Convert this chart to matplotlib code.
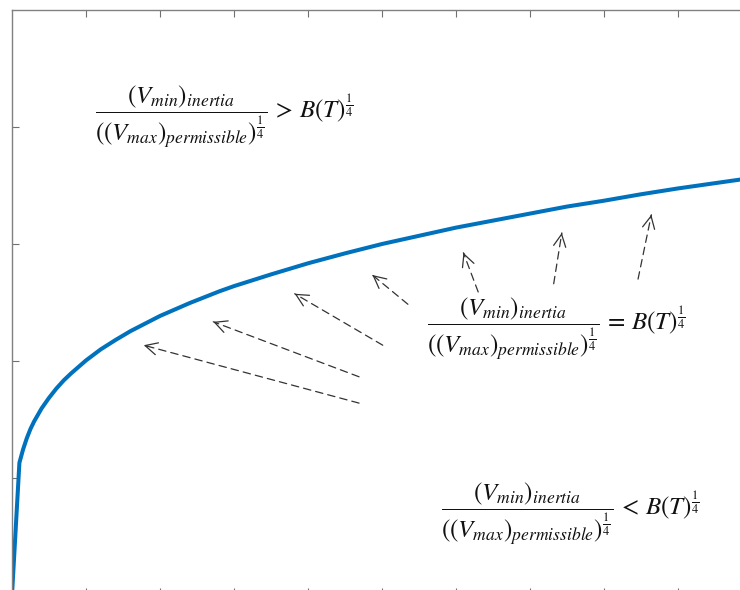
import numpy as np
import matplotlib
matplotlib.use('Agg')
import matplotlib.pyplot as plt

plt.rcParams['mathtext.fontset'] = 'stix'

#%% Curve
x_curve = [0, 0.01, 0.015, 0.02, 0.025, 0.03, 0.04, 0.05, 0.06, 0.07, 0.08, 0.09, 0.10,
           0.12, 0.14, 0.16, 0.18, 0.20, 0.22, 0.24, 0.26, 0.28, 0.30, 0.35, 0.40,
           0.45, 0.50, 0.55, 0.60, 0.65, 0.70, 0.75, 0.80, 0.85, 0.90, 0.95, 1.00]
y_curve = [0, 0.226, 0.249, 0.268, 0.284, 0.297, 0.319, 0.337, 0.353, 0.367, 0.379, 0.390, 0.401,
           0.420, 0.436, 0.451, 0.464, 0.477, 0.488, 0.499, 0.509, 0.519, 0.528, 0.548, 0.567,
           0.584, 0.600, 0.614, 0.628, 0.640, 0.652, 0.664, 0.674, 0.685, 0.695, 0.704, 0.713]

#%% Dashed arrows (tail -> head)
arrow_tail_x = [0.469, 0.469, 0.501, 0.535, 0.630, 0.732, 0.846]
arrow_tail_y = [0.328, 0.373, 0.427, 0.497, 0.518, 0.532, 0.540]
arrow_head_x = [0.178, 0.272, 0.382, 0.487, 0.610, 0.743, 0.864]
arrow_head_y = [0.427, 0.467, 0.515, 0.547, 0.585, 0.619, 0.650]

#%% Labels
frac = r'\dfrac{(V_{min})_{inertia}}{((V_{max})_{permissible})^{\frac{1}{4}}}'
labels = [r'$' + frac + r'\,>\,B(T)^{\frac{1}{4}}$',
          r'$' + frac + r'\,=\,B(T)^{\frac{1}{4}}$',
          r'$' + frac + r'\,<\,B(T)^{\frac{1}{4}}$']
label_x = [0.112, 0.561, 0.580]
label_y = [0.818, 0.455, 0.139]

fig = plt.figure(figsize=(7.4, 5.9), dpi=100)
ax = fig.add_axes([12/740, -5/590, 1.0, 585/590])

ax.plot(x_curve, y_curve, color='#0072BD', linewidth=2.9)

for tx, ty, hx, hy in zip(arrow_tail_x, arrow_tail_y, arrow_head_x, arrow_head_y):
    ax.annotate('', xy=(hx, hy), xytext=(tx, ty),
                arrowprops=dict(arrowstyle='-', linestyle=(0, (6, 4)), color='#333333',
                                lw=0.9, shrinkA=0, shrinkB=0))
    # solid open head
    bx = hx + 0.02 * (tx - hx)
    by = hy + 0.02 * (ty - hy)
    ax.annotate('', xy=(hx, hy), xytext=(bx, by),
                arrowprops=dict(arrowstyle='->', color='#333333',
                                lw=0.9, mutation_scale=22, shrinkA=0, shrinkB=0))

for lx, ly, lab in zip(label_x, label_y, labels):
    ax.text(lx, ly, lab, fontsize=18, ha='left', va='center', color='#111111')

ax.set_xlim(0, 1)
ax.set_ylim(0, 1)
ax.set_xticks(np.arange(0.1, 1.0, 0.1))
ax.set_yticks([0.2, 0.4, 0.6, 0.8])
ax.tick_params(direction='in', length=5, color='#707070', width=0.8,
               top=True, right=True, labelbottom=False, labelleft=False)
for s in ax.spines.values():
    s.set_color('#808080')
    s.set_linewidth(1.0)

fig.savefig('out.png', dpi=100)
